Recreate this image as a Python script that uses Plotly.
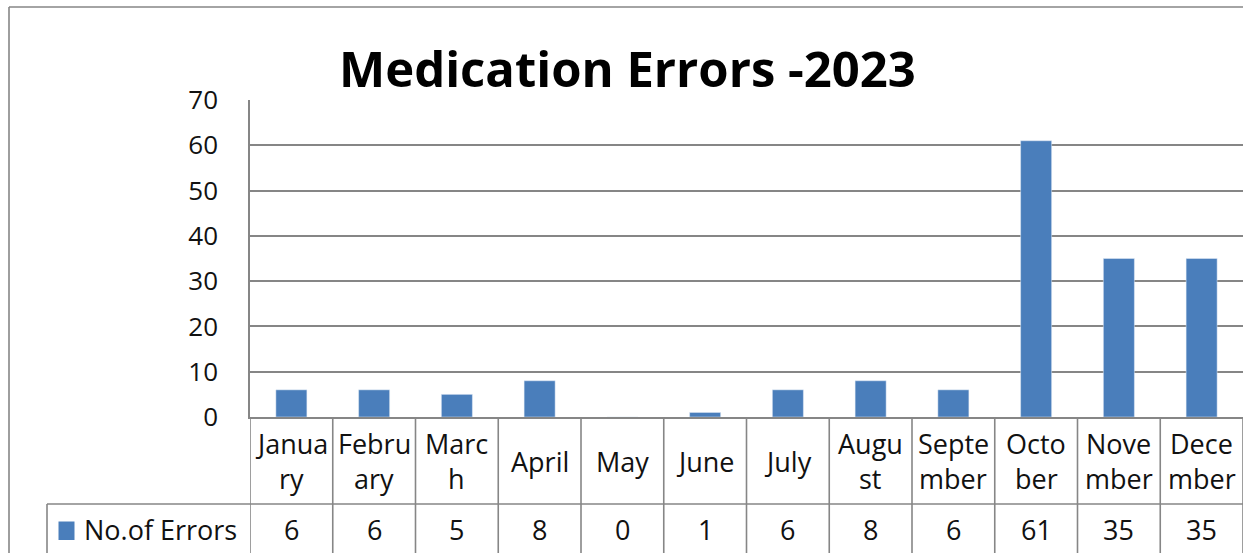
import plotly.graph_objects as go

# ---- data ----
months = ["January", "February", "March", "April", "May", "June",
          "July", "August", "September", "October", "November", "December"]
month_lines = [["Janua", "ry"], ["Febru", "ary"], ["Marc", "h"], ["April"], ["May"], ["June"],
               ["July"], ["Augu", "st"], ["Septe", "mber"], ["Octo", "ber"], ["Nove", "mber"], ["Dece", "mber"]]
errors = [6, 6, 5, 8, 0, 1, 6, 8, 6, 61, 35, 35]
series_name = "No.of Errors"
title_text = "Medication Errors -2023"
y_ticks = [0, 10, 20, 30, 40, 50, 60, 70]

# ---- geometry (pixels) ----
W, H = 1243, 553
L, R, T = 250, 0, 100
B = H - 417
PW = W - L - R
PH = H - T - B
BAR = "#4A7EBB"
GRID = "#868686"
FONT = "Open Sans"
TXT = "#111111"


def px(x):
    return (x - L) / PW


def py(y):
    return (H - B - y) / PH


fig = go.Figure(go.Bar(x=months, y=errors, name=series_name, marker_color=BAR, width=0.375))

shapes = []
line = dict(color=GRID, width=1.6)
# outer chart border (left + top)
shapes.append(dict(type="line", xref="paper", yref="paper", x0=px(9), x1=px(1260), y0=py(7), y1=py(7), line=line))
shapes.append(dict(type="line", xref="paper", yref="paper", x0=px(9), x1=px(9), y0=py(7), y1=py(570), line=line))
# table vertical separators
for i in range(len(months) + 1):
    shapes.append(dict(type="line", xref="x", yref="paper", x0=i - 0.5, x1=i - 0.5,
                       y0=0, y1=py(570), line=line))
# table row separator and left edge of series row
shapes.append(dict(type="line", xref="paper", yref="paper", x0=px(47), x1=px(1260), y0=py(504), y1=py(504), line=line))
shapes.append(dict(type="line", xref="paper", yref="paper", x0=px(47), x1=px(47), y0=py(504), y1=py(570), line=line))
# legend key
shapes.append(dict(type="rect", xref="paper", yref="paper", x0=px(58.5), x1=px(74.5), y0=py(540), y1=py(521.5),
                   fillcolor=BAR, line=dict(width=0)))

annotations = []
tfont = dict(family=FONT, size=27, color=TXT)
for m, lines_, v in zip(months, month_lines, errors):
    if len(lines_) == 1:
        annotations.append(dict(x=m, xref="x", y=py(461), yref="paper", text=lines_[0], showarrow=False,
                                font=tfont, xanchor="center", yanchor="middle"))
    else:
        annotations.append(dict(x=m, xref="x", y=py(443), yref="paper", text=lines_[0], showarrow=False,
                                font=tfont, xanchor="center", yanchor="middle"))
        annotations.append(dict(x=m, xref="x", y=py(478.5), yref="paper", text=lines_[1], showarrow=False,
                                font=tfont, xanchor="center", yanchor="middle"))
    annotations.append(dict(x=m, xref="x", y=py(529.5), yref="paper", text=str(v), showarrow=False,
                            font=tfont, xanchor="center", yanchor="middle"))
annotations.append(dict(x=px(82), xref="paper", y=py(529.5), yref="paper", text=series_name, showarrow=False,
                        font=tfont, xanchor="left", yanchor="middle"))
annotations.append(dict(x=px(627.5), xref="paper", y=py(68), yref="paper", text="<b>" + title_text + "</b>",
                        showarrow=False, font=dict(family=FONT, size=49, color="black"),
                        xanchor="center", yanchor="middle"))

fig.update_layout(
    width=W, height=H,
    margin=dict(l=L, r=R, t=T, b=B),
    paper_bgcolor="white", plot_bgcolor="white",
    showlegend=False,
    shapes=shapes, annotations=annotations,
    font=dict(family=FONT, color=TXT),
    xaxis=dict(type="category", range=[-0.5, len(months) - 0.5], showticklabels=False, showgrid=False,
               showline=True, linecolor=GRID, linewidth=1.6, ticks="", zeroline=False, fixedrange=True),
    yaxis=dict(range=[0, 70], tickvals=y_ticks, showgrid=True, gridcolor=GRID, gridwidth=1.6,
               showline=True, linecolor=GRID, linewidth=1.6, zeroline=False, ticks="",
               tickfont=dict(family=FONT, size=26, color=TXT), ticklabelstandoff=25),
    bargap=0.625,
)

fig.write_html("out.html", config={"displayModeBar": False},
               post_script="document.body.style.margin='0px';document.body.style.overflow='hidden';")
